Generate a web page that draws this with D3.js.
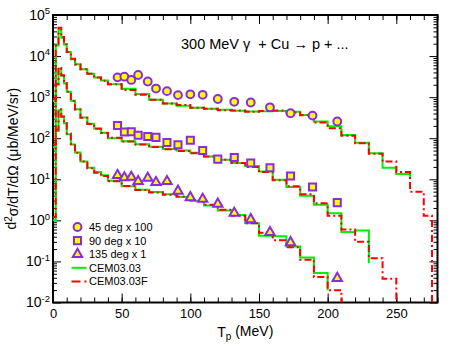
<!DOCTYPE html>
<html>
<head>
<meta charset="utf-8">
<script src="https://cdnjs.cloudflare.com/ajax/libs/d3/7.8.5/d3.min.js"></script>
<style>
  body { margin: 0; background: #fff; }
  svg { font-family: 'Liberation Sans', Arial, Helvetica, sans-serif; }
</style>
</head>
<body>
<div id="chart"></div>
<script>
// bin edges of the model histograms (MeV)
const edges = [0, 2, 4, 6, 8, 10, 13, 16, 20, 25, 30, 35, 40, 50, 60, 70, 80, 90, 100, 110, 120,
  130, 140, 150, 160, 170, 180, 190, 200, 210, 220, 230, 240, 250, 260, 270, 276]

// CEM03.03 (green)
const cem45 = [800, 18000, 44000, 28000, 19000, 12500, 8400, 6300, 4800, 3700, 3000, 2550, 2050, 1600,
  1200, 860, 700, 620, 550, 520, 490, 465, 450, 455, 460, 440, 370, 255, 195, 120, 78, 43, 19, 13.5, null, null]
const cem90 = [60, 2000, 5000, 3300, 2150, 1350, 820, 510, 320, 225, 172, 135, 100, 84, 71, 62, 55, 50,
  44, 36, 30, 25, 21, 15.5, 9.8, 6.5, 4.0, 2.4, 1.5, 0.52, 0.57, null, null, null, null, null]
const cem135 = [1, 150, 480, 330, 230, 125, 70, 45, 27, 19, 15, 12.5, 9.2, 6.8, 5.6, 4.9, 4.3, 3.7, 3.0,
  2.3, 1.75, 1.35, 0.85, 0.42, 0.41, 0.23, 0.125, 0.052, null, null, null, null, null, null, null, null]

// CEM03.03F (red dashed)
const cemF45 = [900, 20000, 49000, 29000, 19500, 12500, 8600, 6200, 4800, 3700, 3000, 2500, 2050, 1500,
  1150, 860, 700, 640, 550, 520, 480, 470, 440, 460, 470, 420, 360, 240, 175, 115, 75, 42, 27, 15, 5, 1.3]
const cemF90 = [70, 2100, 5200, 3400, 2200, 1350, 800, 500, 315, 222, 170, 134, 102, 83, 70, 61, 54, 49,
  43, 36, 30, 25, 20, 15, 9.5, 6.8, 4.3, 2.6, 1.3, 0.6, 0.3, 0.12, 0.038, null, null, null]
const cemF135 = [1.2, 160, 510, 340, 235, 130, 72, 44, 27, 18.5, 14.5, 12, 9, 6.9, 5.5, 4.8, 4.2, 3.8,
  3.1, 2.4, 1.8, 1.3, 0.85, 0.5, 0.33, 0.22, 0.11, 0.042, 0.02, null, null, null, null, null, null, null]

// where each histogram ends (value of the final drop)
const cemTails = [10, 0.09, 0.02]
const cemFTails = [0.005, 0.005, 0.005]

// measured points
const expEnergy = [47, 52, 57, 62, 69, 75, 83, 91, 100, 109, 120, 132, 144, 158, 173, 189, 207]
const exp45 = [3030, 3150, 2620, 3460, 2400, 1620, 1400, 1120, 1170, 1140, 900, 770, 740, 565, 405, 355, 255]
const exp90 = [203, 142, 144, 118, 110, 105, 79, 69, 89, 50, 31, 34, 25, 19, 12, 6.5, 2.7]
const exp135 = [12.5, 11, 11.3, 8.9, 10.7, 8.4, 8.9, 5.2, 3.6, 3.3, 2.5, 1.5, 1.05, 0.51, 0.29, null, 0.039]

const xMajor = [0, 50, 100, 150, 200, 250]
const yDecades = [1e-2, 1e-1, 1e0, 1e1, 1e2, 1e3, 1e4, 1e5]
const legendLabels = ['45 deg x 100', '90 deg x 10', '135 deg x 1', 'CEM03.03', 'CEM03.03F']

const svgWidth = 457
const svgHeight = 353
const margin = { top: 15, right: 19.5, bottom: 50.5, left: 53 }
const width = svgWidth - margin.left - margin.right
const height = svgHeight - margin.top - margin.bottom

const svg = d3
  .select('#chart')
  .append('svg')
  .attr('width', svgWidth)
  .attr('height', svgHeight)

const g = svg.append('g')
  .attr('transform', 'translate(' + margin.left + ',' + margin.top + ')')

const xPositionScale = d3.scaleLinear().domain([0, 280]).range([0, width])
const yPositionScale = d3.scaleLog().domain([1e-2, 1e5]).range([height, 0])

svg.append('defs').append('clipPath')
  .attr('id', 'plot-clip')
  .append('rect')
  .attr('width', width)
  .attr('height', height)

// ---- axes ----
const yMinor = []
yDecades.slice(0, -1).forEach(d => {
  for (let k = 2; k <= 9; k++) yMinor.push(d * k)
})
const xMinor = d3.range(0, 281, 10)

function plain(sel) {
  sel.select('.domain').remove()
  sel.selectAll('line').attr('stroke', '#000')
}

g.append('g').attr('transform', 'translate(0,' + height + ')')
  .call(d3.axisBottom(xPositionScale).tickValues(xMinor).tickSize(-5).tickFormat(''))
  .call(plain)
g.append('g').attr('class', 'x-axis').attr('transform', 'translate(0,' + height + ')')
  .call(d3.axisBottom(xPositionScale).tickValues(xMajor).tickSize(-9).tickPadding(6))
  .call(plain)
g.append('g')
  .call(d3.axisTop(xPositionScale).tickValues(xMinor).tickSize(-5).tickFormat(''))
  .call(plain)
g.append('g')
  .call(d3.axisTop(xPositionScale).tickValues(xMajor).tickSize(-9).tickFormat(''))
  .call(plain)

g.append('g')
  .call(d3.axisLeft(yPositionScale).tickValues(yMinor).tickSize(-4).tickFormat(''))
  .call(plain)
g.append('g').attr('class', 'y-axis')
  .call(d3.axisLeft(yPositionScale).tickValues(yDecades).tickSize(-8).tickPadding(3))
  .call(plain)
g.append('g').attr('transform', 'translate(' + width + ',0)')
  .call(d3.axisRight(yPositionScale).tickValues(yMinor).tickSize(-4).tickFormat(''))
  .call(plain)
g.append('g').attr('transform', 'translate(' + width + ',0)')
  .call(d3.axisRight(yPositionScale).tickValues(yDecades).tickSize(-8).tickFormat(''))
  .call(plain)

g.selectAll('.x-axis text')
  .attr('font-size', '13px')
  .attr('font-family', null)
  .attr('fill', '#000')

g.selectAll('.y-axis text')
  .attr('font-size', '14px')
  .attr('font-family', null)
  .attr('fill', '#000')
  .text(null)
  .each(function(d) {
    const t = d3.select(this)
    t.append('tspan').text('10')
    t.append('tspan')
      .attr('dy', '-0.6em')
      .attr('font-size', '9.5px')
      .text(Math.round(Math.log10(d)))
  })

g.append('rect')
  .attr('width', width)
  .attr('height', height)
  .attr('fill', 'none')
  .attr('stroke', '#000')
  .attr('stroke-width', 2)

// ---- histograms ----
function stepPoints(values, tail) {
  const pts = []
  let last = null
  values.forEach((v, i) => {
    if (v == null) return
    pts.push([edges[i], v])
    last = i
  })
  pts.push([edges[last + 1], values[last]])
  pts.push([edges[last + 1], tail])
  return pts
}

const line = d3.line()
  .curve(d3.curveStepAfter)
  .x(d => xPositionScale(d[0]))
  .y(d => yPositionScale(d[1]))

const curves = g.append('g').attr('clip-path', 'url(#plot-clip)')

const cemSeries = [cem45, cem90, cem135]
const cemFSeries = [cemF45, cemF90, cemF135]

cemSeries.forEach((s, i) => {
  curves.append('path')
    .attr('d', line(stepPoints(s, cemTails[i])))
    .attr('fill', 'none')
    .attr('stroke', '#00ee00')
    .attr('stroke-width', 2)
})

cemFSeries.forEach((s, i) => {
  curves.append('path')
    .attr('d', line(stepPoints(s, cemFTails[i])))
    .attr('fill', 'none')
    .attr('stroke', '#ff0000')
    .attr('stroke-width', 2)
    .attr('stroke-dasharray', '7,3,2,3')
})

// ---- data points ----
const symbols = [d3.symbolCircle, d3.symbolSquare, d3.symbolTriangle]
const symbolSizes = [48, 50, 38]
const expSeries = [exp45, exp90, exp135]

expSeries.forEach((s, i) => {
  const pts = expEnergy.map((e, j) => ({ e: e, v: s[j] })).filter(d => d.v != null)
  g.append('g')
    .selectAll('path')
    .data(pts)
    .enter()
    .append('path')
    .attr('d', d3.symbol(symbols[i], symbolSizes[i]))
    .attr('transform', d => 'translate(' + xPositionScale(d.e) + ',' + yPositionScale(d.v) + ')')
    .attr('fill', '#ffff00')
    .attr('stroke', '#8a2be2')
    .attr('stroke-width', 2)
})

// ---- legend ----
const legend = g.append('g').attr('transform', 'translate(24.5,212)')
legendLabels.forEach((label, i) => {
  const row = legend.append('g').attr('transform', 'translate(0,' + (i * 13.6) + ')')
  if (i < 3) {
    row.append('path')
      .attr('d', d3.symbol(symbols[i], symbolSizes[i]))
      .attr('fill', '#ffff00')
      .attr('stroke', '#8a2be2')
      .attr('stroke-width', 2)
  } else {
    row.append('line')
      .attr('x1', -6).attr('x2', 9)
      .attr('stroke', i === 3 ? '#00ee00' : '#ff0000')
      .attr('stroke-width', 2)
      .attr('stroke-dasharray', i === 3 ? null : '9,4,2,3')
  }
  row.append('text')
    .attr('x', 11.5)
    .attr('dy', '0.36em')
    .attr('font-size', '11px')
    .text(label)
})

// ---- titles ----
svg.append('text')
  .attr('x', 181)
  .attr('y', 48.5)
  .attr('font-size', '14.5px')
  .style('white-space', 'pre')
  .text('300 MeV \u03b3  + Cu \u2192 p + ...')

const xLabel = svg.append('text')
  .attr('x', margin.left + width / 2)
  .attr('y', 337)
  .attr('text-anchor', 'middle')
  .attr('font-size', '14px')
xLabel.append('tspan').text('T')
xLabel.append('tspan').attr('dy', '0.3em').attr('font-size', '10px').text('p')
xLabel.append('tspan').attr('dy', '-0.3em').text(' (MeV)')

const yLabel = svg.append('text')
  .attr('transform', 'translate(16,' + (margin.top + height / 2) + ') rotate(-90)')
  .attr('text-anchor', 'middle')
  .attr('font-size', '14px')
yLabel.append('tspan').text('d')
yLabel.append('tspan').attr('dy', '-0.45em').attr('font-size', '10px').text('2')
yLabel.append('tspan').attr('dy', '0.45em').text('\u03c3/dT/d\u03a9 (\u03bcb/MeV/sr)')
</script>
</body>
</html>
